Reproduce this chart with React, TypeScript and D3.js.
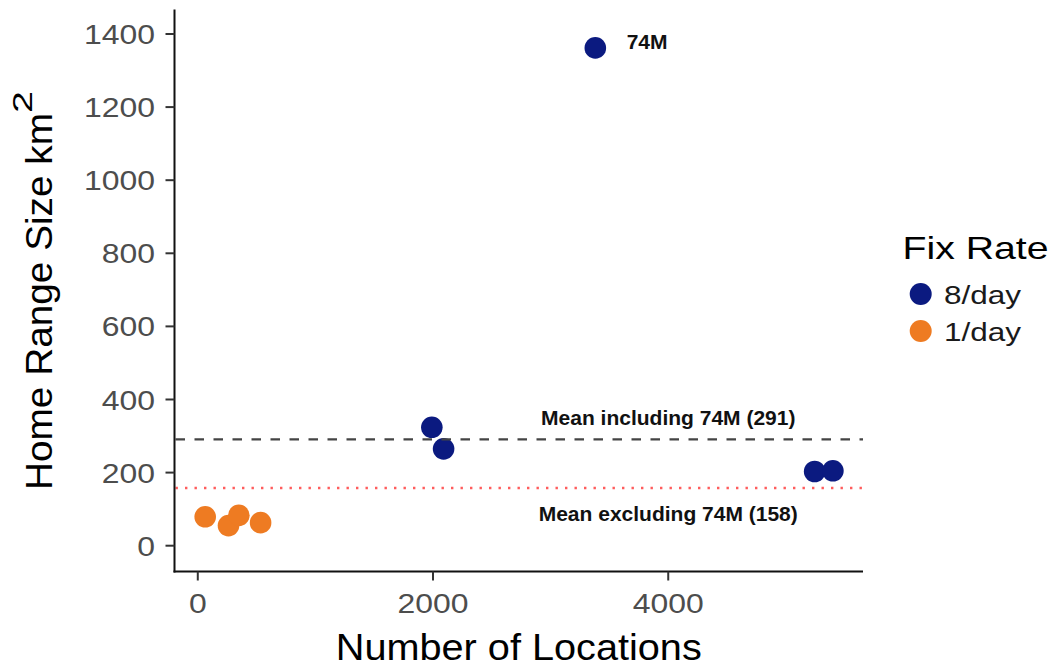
import React from "react";
import * as d3 from "d3";

// Home range size against number of GPS locations, coloured by fix rate
const fixRates = ["8/day", "1/day"];
const fixColors = ["#0b1a80", "#ee7b22"];

const locations8 = [1990, 2090, 3380, 5245, 5400];
const homeRange8 = [324, 265, 1362, 203, 205];
const locations1 = [63, 261, 349, 534];
const homeRange1 = [79, 55, 83, 63];

const meanIncluding = 291;
const meanExcluding = 158;
const meanLabels = ["Mean including 74M (291)", "Mean excluding 74M (158)"];
const meanLabelX = [4000, 4000];
const meanLabelY = [350, 88];

const outlierLabel = "74M";
const outlierLabelX = 3820;
const outlierLabelY = 1380;

const xTicks = [0, 2000, 4000];
const yTicks = [0, 200, 400, 600, 800, 1000, 1200, 1400];

const FONT = "'Liberation Sans', Arial, Helvetica, sans-serif";

export default function App() {
  const W = 1055;
  const H = 666;
  const left = 174.5;
  const right = 863;
  const top = 9.5;
  const bottom = 571.5;

  const x = d3.scaleLinear().domain([-198, 5656]).range([left, right]);
  const y = d3.scaleLinear().domain([-70.6, 1467]).range([bottom, top]);

  const points = [
    ...locations8.map((v, i) => ({ x: v, y: homeRange8[i], rate: 0 })),
    ...locations1.map((v, i) => ({ x: v, y: homeRange1[i], rate: 1 })),
  ];

  const tickColor = "#4d4d4d";
  const sx = 1.14;

  return (
    <svg
      width={W}
      height={H}
      style={{ position: "absolute", left: 0, top: 0, display: "block", background: "#fff" }}
      fontFamily={FONT}
    >
      {/* points */}
      {points.map((p, i) => (
        <circle key={i} cx={x(p.x)} cy={y(p.y)} r={10.8} fill={fixColors[p.rate]} />
      ))}

      {/* mean reference lines */}
      <line
        x1={left + 1}
        x2={right}
        y1={y(meanIncluding)}
        y2={y(meanIncluding)}
        stroke="#444"
        strokeWidth={2.4}
        strokeDasharray="9.5 9.5"
      />
      <line
        x1={left + 1}
        x2={right}
        y1={y(meanExcluding)}
        y2={y(meanExcluding)}
        stroke="#ff5c5c"
        strokeWidth={2.4}
        strokeDasharray="2.4 7.1"
      />

      {/* annotations */}
      {meanLabels.map((t, i) => (
        <text
          key={t}
          x={x(meanLabelX[i])}
          y={y(meanLabelY[i])}
          dy="0.35em"
          textAnchor="middle"
          fontSize={21}
          fontWeight="bold"
          fill="#111"
        >
          {t}
        </text>
      ))}
      <text
        x={x(outlierLabelX)}
        y={y(outlierLabelY)}
        dy="0.35em"
        textAnchor="middle"
        fontSize={21}
        fontWeight="bold"
        fill="#111"
      >
        {outlierLabel}
      </text>

      {/* axes */}
      <line x1={left} x2={left} y1={top} y2={bottom + 1} stroke="#111" strokeWidth={2} />
      <line x1={left - 1} x2={right} y1={bottom} y2={bottom} stroke="#111" strokeWidth={2} />

      {yTicks.map((t) => (
        <g key={"y" + t}>
          <line x1={left - 9} x2={left} y1={y(t)} y2={y(t)} stroke="#333" strokeWidth={2} />
          <text
            transform={`translate(${155},${y(t)}) scale(${sx},1)`}
            dy="0.36em"
            textAnchor="end"
            fontSize={28}
            fill={tickColor}
          >
            {t}
          </text>
        </g>
      ))}

      {xTicks.map((t) => (
        <g key={"x" + t}>
          <line x1={x(t)} x2={x(t)} y1={bottom} y2={bottom + 9} stroke="#333" strokeWidth={2} />
          <text
            transform={`translate(${x(t)},${613}) scale(${sx},1)`}
            textAnchor="middle"
            fontSize={28}
            fill={tickColor}
          >
            {t}
          </text>
        </g>
      ))}

      {/* axis titles */}
      <text
        x={(left + right) / 2}
        y={659.5}
        textAnchor="middle"
        fontSize={37}
        fill="#000"
        textLength={366}
        lengthAdjust="spacingAndGlyphs"
      >
        Number of Locations
      </text>
      <text
        transform={`translate(52,490) rotate(-90)`}
        textAnchor="start"
        fontSize={37}
        fill="#000"
        textLength={377}
        lengthAdjust="spacingAndGlyphs"
      >
        Home Range Size km
      </text>
      <text
        transform={`translate(32,113) rotate(-90)`}
        textAnchor="start"
        fontSize={27}
        fill="#000"
        textLength={22}
        lengthAdjust="spacingAndGlyphs"
      >
        2
      </text>

      {/* legend */}
      <text
        x={902.5}
        y={258.5}
        fontSize={32}
        fill="#000"
        textLength={146}
        lengthAdjust="spacingAndGlyphs"
      >
        Fix Rate
      </text>
      {fixRates.map((r, i) => (
        <g key={r} transform={`translate(0,${i * 37})`}>
          <circle cx={920.7} cy={294} r={11} fill={fixColors[i]} />
          <text
            x={944}
            y={303.5}
            fontSize={26}
            fill="#1a1a1a"
            textLength={77}
            lengthAdjust="spacingAndGlyphs"
          >
            {r}
          </text>
        </g>
      ))}
    </svg>
  );
}
